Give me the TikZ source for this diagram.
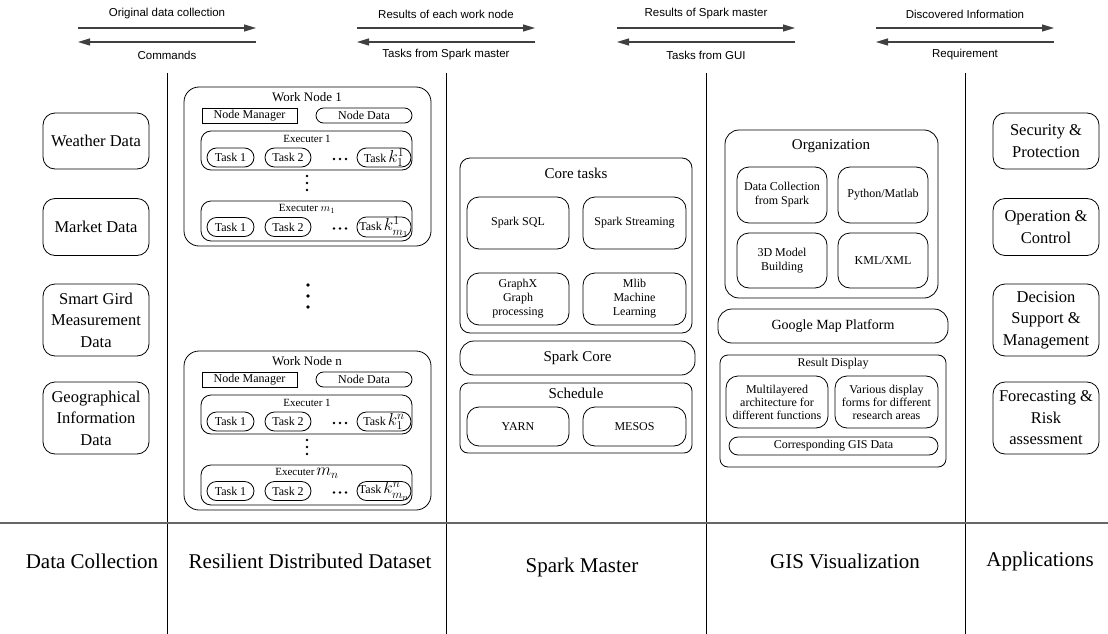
\documentclass[tikz,border=0pt]{standalone}
\usepackage{fontspec}
\setmainfont{Liberation Serif}
\newfontfamily\sansf{Liberation Sans}
\usetikzlibrary{arrows.meta}
\newcommand\fs[2]{\fontsize{#1}{#2}\selectfont}
% #1 top y, #2 prefix, #3 title, #4 executer m label, #5 superscript, #6 last subscript
\newcommand\workblock[6]{%
  \node[rb=15pt, minimum width=247, minimum height=159] (#2box) at (307.5,{#1+79.5}) {};
  \node[lbl, font=\fs{13}{13}] (#2title) at (307,{#1+10}) {#3};
  \node[draw, line width=0.8pt, inner sep=0pt, minimum width=95, minimum height=15, font=\fs{12}{12}] (#2nm) at (249.5,{#1+28.5}) {Node Manager};
  \node[rb=7.5pt, minimum width=96, minimum height=15, font=\fs{12}{12}] (#2nd) at (364,{#1+28.5}) {Node Data};
  \node[rb=10pt, minimum width=211, minimum height=39] (#2ea) at (306.5,{#1+63.5}) {};
  \node[lbl, font=\fs{11}{11}] (#2eat) at (307,{#1+52}) {Executer 1};
  \node[task, minimum width=47] (#2ta1) at (230.5,{#1+70.5}) {Task 1};
  \node[task, minimum width=46] (#2ta2) at (288,{#1+70.5}) {Task 2};
  \node[task, minimum width=54] (#2tak) at (384,{#1+70.5}) {Task\,{\fs{18}{18}$k^{#5}_{1}$}};
  \foreach \dx in {-6,0,6}{\fill ({340+\dx},{#1+72}) circle (1.3);}
  \foreach \dy in {89,96,103}{\fill (307,{#1+\dy}) circle (1.3);}
  \node[rb=10pt, minimum width=211, minimum height=40] (#2em) at (306.5,{#1+134}) {};
  \node[lbl, font=\fs{11}{11}] (#2emt) at (307,{#1+122}) {#4};
  \node[task, minimum width=47] (#2tm1) at (230.5,{#1+140}) {Task 1};
  \node[task, minimum width=46] (#2tm2) at (288,{#1+140}) {Task 2};
  \node[task, minimum width=54] (#2tmk) at (384,{#1+140}) {Task\,{\fs{18}{18}$k^{#5}_{#6}$}};
  \foreach \dx in {-6,0,6}{\fill ({340+\dx},{#1+141.5}) circle (1.3);}
}
\begin{document}
\begin{tikzpicture}[x=1pt,y=-1pt,
  rb/.style={draw, rounded corners=#1, inner sep=0pt, align=center, line width=0.8pt},
  rb/.default=12pt,
  lbl/.style={inner sep=0pt, align=center},
  sidebox/.style={rb=12pt, minimum width=106, font=\fs{16.5}{21.5}},
  arr/.style={-{Triangle[length=12pt,width=7pt]}, draw=black!75, line width=1.1pt},
  toptext/.style={inner sep=0pt, font=\sansf\fs{11.5}{13}},
  sep/.style={draw=black, line width=0.8pt},
  hsep/.style={draw=black!60, line width=1.5pt},
  bottom/.style={inner sep=0pt, font=\fs{21}{25}},
  task/.style={rb=9.5pt, minimum height=19, font=\fs{12}{12}},
  inner/.style={rb=12pt, minimum width=102, font=\fs{12}{14}},
]
\useasboundingbox (0,0) rectangle (1108,634);
\fill[white] (0,0) rectangle (1108,634);

% top arrows
\foreach \cx/\up/\dn [count=\i] in {167/Original data collection/Commands,
  446/Results of each work node/Tasks from Spark master,
  706/Results of Spark master/Tasks from GUI,
  965/Discovered Information/Requirement}{
  \coordinate (r\i a) at ({\cx-89},28);
  \coordinate (r\i b) at ({\cx+89},28);
  \coordinate (l\i a) at ({\cx+89},42);
  \coordinate (l\i b) at ({\cx-89},42);
  \draw[arr] (r\i a) -- (r\i b);
  \draw[arr] (l\i a) -- (l\i b);
  \node[toptext] (up\i) at (\cx,14) {\up};
  \node[toptext] (dn\i) at (\cx,55) {\dn};
}

% separators
\foreach \x [count=\i] in {167,446,706,965}{
  \coordinate (v\i t) at (\x,73);
  \coordinate (v\i b) at (\x,634);
  \draw[sep] (v\i t) -- (v\i b);
}
\coordinate (hl) at (0,523);
\coordinate (hr) at (1108,523);
\draw[hsep] (hl) -- (hr);

% data collection
\node[sidebox, minimum height=56] (wd) at (96,141) {Weather Data};
\node[sidebox, minimum height=57] (md) at (96,227) {Market Data};
\node[sidebox, minimum height=72] (sg) at (96,320) {Smart Gird\\Measurement\\Data};
\node[sidebox, minimum height=72] (gi) at (96,418) {Geographical\\Information\\Data};

% applications
\node[sidebox, minimum height=56] (sp) at (1046,141) {Security \&\\Protection};
\node[sidebox, minimum height=57] (oc) at (1046,227) {Operation \&\\Control};
\node[sidebox, minimum height=72] (ds) at (1046,320) {Decision\\Support \&\\Management};
\node[sidebox, minimum height=72] (fr) at (1046,418) {Forecasting \&\\Risk\\assessment};

% RDD
\workblock{87}{wa}{Work Node 1}{Executer $m_{1}$}{1}{m_1}
\workblock{351}{wb}{Work Node n}{Executer\,{\fs{17}{17}$m_{n}$}}{n}{m_n}
\foreach \dy in {285,296,307}{\fill (308,\dy) circle (1.8);}

% Spark master
\node[rb=10pt, minimum width=232, minimum height=175] (ct) at (576,245.5) {};
\node[lbl, font=\fs{15}{15}] (ctt) at (576,173) {Core tasks};
\node[inner, minimum height=52] (sql) at (518,223) {Spark SQL};
\node[inner, minimum width=103, minimum height=52] (sst) at (634.5,223) {Spark Streaming};
\node[inner, minimum height=52] (gx) at (518,299) {GraphX\\Graph\\processing};
\node[inner, minimum width=103, minimum height=52] (ml) at (634.5,299) {Mlib\\Machine\\Learning};
\node[rb=14pt, minimum width=235, minimum height=34, font=\fs{15}{15}] (sc) at (577.5,358) {Spark Core};
\node[rb=8pt, minimum width=232, minimum height=70] (sch) at (576,418) {};
\node[lbl, font=\fs{15}{15}] (scht) at (576,393) {Schedule};
\node[inner, minimum height=39] (yarn) at (518,426.5) {YARN};
\node[inner, minimum width=103, minimum height=39] (mesos) at (634.5,426.5) {MESOS};

% GIS
\node[rb=14pt, minimum width=213, minimum height=168] (org) at (831.5,214) {};
\node[lbl, font=\fs{15}{15}] (orgt) at (831,146) {Organization};
\node[inner, minimum width=90, minimum height=56] (dcs) at (782,195) {Data Collection\\from Spark};
\node[inner, minimum width=90, minimum height=56] (pm) at (883,195) {Python/Matlab};
\node[inner, minimum width=90, minimum height=55] (tdm) at (782,260.5) {3D Model\\Building};
\node[inner, minimum width=90, minimum height=55] (kml) at (883,260.5) {KML/XML};
\node[rb=14pt, minimum width=230, minimum height=34, font=\fs{14}{14}] (gmp) at (833,326) {Google Map Platform};
\node[rb=8pt, minimum width=226, minimum height=112] (rd) at (833,411) {};
\node[lbl, font=\fs{12}{12}] (rdt) at (833,364) {Result Display};
\node[inner, minimum width=102, minimum height=52, font=\fs{12}{13}] (mla) at (777,402) {Multilayered\\architecture for\\different functions};
\node[inner, minimum width=103, minimum height=52, font=\fs{12}{13}] (vdf) at (886.5,402) {Various display\\forms for different\\research areas};
\node[rb=9pt, minimum width=209, minimum height=18, font=\fs{12}{12}] (cgd) at (833.5,446) {Corresponding GIS Data};

% bottom labels
\node[bottom] (bdc) at (92,561) {Data Collection};
\node[bottom] (brdd) at (310,561) {Resilient Distributed Dataset};
\node[bottom] (bsm) at (582,567) {Spark Master};
\node[bottom] (bgis) at (845,561) {GIS Visualization};
\node[bottom] (bapp) at (1040,561) {Applications};
\end{tikzpicture}
\end{document}
